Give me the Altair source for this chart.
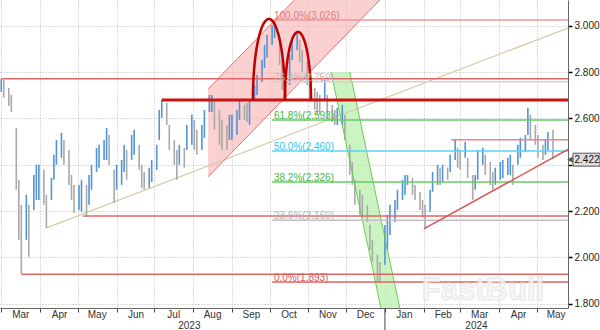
import altair as alt
import numpy as np
import pandas as pd

# ---------------- data ----------------
# one bar every second business day, starting 2023-03-01
bar_high = [
    2.771, 2.767, 2.732, 2.702, 2.559, 2.335, 2.227, 2.270, 2.227, 2.356,
    2.400, 2.400, 2.378, 2.270, 2.343, 2.443, 2.507, 2.538, 2.507, 2.464,
    2.356, 2.313, 2.313, 2.335, 2.313, 2.356, 2.400, 2.473, 2.486, 2.507,
    2.559, 2.529, 2.378, 2.400, 2.421, 2.486, 2.464, 2.529, 2.551, 2.486,
    2.400, 2.369, 2.387, 2.421, 2.486, 2.637, 2.680, 2.667, 2.572, 2.507,
    2.464, 2.486, 2.473, 2.572, 2.616, 2.594, 2.551, 2.572, 2.637, 2.702,
    2.702, 2.680, 2.637, 2.594, 2.572, 2.616, 2.616, 2.637, 2.680, 2.659,
    2.667, 2.680, 2.745, 2.788, 2.853, 2.918, 2.961, 3.004, 3.026, 2.961,
    2.853, 2.788, 2.875, 2.948, 2.970, 2.940, 2.896, 2.844, 2.767, 2.732,
    2.715, 2.702, 2.767, 2.702, 2.659, 2.637, 2.646, 2.659, 2.616, 2.486,
    2.412, 2.335, 2.292, 2.270, 2.227, 2.140, 2.076, 2.011, 1.980, 2.140,
    2.184, 2.227, 2.248, 2.292, 2.335, 2.356, 2.356, 2.343, 2.313, 2.283,
    2.248, 2.227, 2.292, 2.369, 2.400, 2.387, 2.400, 2.387, 2.443, 2.507,
    2.473, 2.464, 2.499, 2.430, 2.356, 2.356, 2.464, 2.473, 2.443, 2.412,
    2.369, 2.387, 2.412, 2.421, 2.430, 2.443, 2.400, 2.486, 2.516, 2.529,
    2.646, 2.616, 2.572, 2.529, 2.486, 2.507, 2.542, 2.551,
]
bar_low = [
    2.715, 2.689, 2.654, 2.628, 2.292, 2.076, 1.929, 2.076, 2.002, 2.205,
    2.248, 2.248, 2.227, 2.127, 2.248, 2.335, 2.400, 2.430, 2.400, 2.313,
    2.248, 2.192, 2.205, 2.196, 2.175, 2.227, 2.292, 2.369, 2.387, 2.421,
    2.421, 2.400, 2.235, 2.292, 2.313, 2.369, 2.335, 2.421, 2.443, 2.378,
    2.300, 2.292, 2.300, 2.326, 2.378, 2.507, 2.603, 2.572, 2.464, 2.400,
    2.335, 2.400, 2.387, 2.464, 2.486, 2.464, 2.443, 2.464, 2.516, 2.628,
    2.628, 2.551, 2.486, 2.464, 2.464, 2.507, 2.507, 2.529, 2.594, 2.594,
    2.585, 2.572, 2.680, 2.702, 2.758, 2.819, 2.862, 2.918, 2.948, 2.831,
    2.724, 2.680, 2.745, 2.853, 2.896, 2.844, 2.801, 2.745, 2.680, 2.637,
    2.616, 2.616, 2.680, 2.603, 2.585, 2.572, 2.572, 2.572, 2.507, 2.356,
    2.313, 2.227, 2.184, 2.171, 2.153, 2.032, 1.980, 1.894, 1.894, 1.968,
    2.032, 2.097, 2.153, 2.205, 2.248, 2.270, 2.313, 2.270, 2.248, 2.205,
    2.171, 2.127, 2.196, 2.283, 2.313, 2.313, 2.326, 2.335, 2.369, 2.421,
    2.387, 2.378, 2.430, 2.343, 2.248, 2.292, 2.335, 2.400, 2.356, 2.313,
    2.292, 2.313, 2.335, 2.343, 2.356, 2.356, 2.313, 2.400, 2.430, 2.456,
    2.529, 2.507, 2.486, 2.430, 2.421, 2.443, 2.464, 2.425,
]
last_price = 2.422

# Fibonacci retracement (drawn from the 2023-10 high)
fib_pct = ["100.0%", "76.4%", "61.8%", "50.0%", "38.2%", "23.6%", "0.0%"]
fib_val = [3.026, 2.759, 2.593, 2.460, 2.326, 2.160, 1.893]
fib_line_color = ["#e89a9a", "#e8c8cc", "#66cc66", "#55d4f2", "#66cc66", "#c8bcc8", "#e06060"]
fib_text_color = ["#e07c7c", "#c8b8b8", "#44b844", "#33c4ee", "#44b844", "#b4b4b4", "#e05a5a"]
fib_start = "2023-10-03"

# other horizontal levels
lvl_value = [2.772, 2.680, 2.179, 1.927, 2.508]
lvl_start = ["2023-03-01", "2023-07-07", "2023-05-05", "2023-03-17", "2024-02-23"]
lvl_color = ["#e06666", "#cc1111", "#e06666", "#e06666", "#e48888"]
lvl_width = [1.5, 3.0, 1.5, 1.5, 1.5]

# trend lines
tan_dates = ["2023-04-06", "2024-05-26"]
tan_vals = [2.127, 2.991]
rise_dates = ["2024-02-01", "2024-05-26"]
rise_vals = [2.123, 2.466]

# rising red channel
rch_dates = ["2023-08-13", "2023-12-29"]
rch_low = [2.348, 3.118]
rch_high = [2.728, 3.498]

# falling green channel (value, left edge date, right edge date)
gch_vals = [2.801, 1.700]
gch_left = ["2023-11-19", "2024-01-01"]
gch_right = ["2023-12-04", "2024-01-16"]

# double-top arcs
arc_center = ["2023-09-30 12:00", "2023-10-23 16:00"]
arc_half_days = [12.8, 10.4]
arc_peak = [3.030, 2.974]
arc_base = 2.680

months = [(2023, m) for m in range(3, 13)] + [(2024, m) for m in range(1, 6)]
years = ["2023", "2024"]
year_pos = ["2023-07-29", "2024-03-14"]
y_ticks = [1.8, 2.0, 2.2, 2.4, 2.6, 2.8, 3.0]

Y_DOM = (1.781, 3.112)

# ---------------- build tables ----------------
dates = pd.bdate_range("2023-03-01", periods=len(bar_high), freq="2B")
bars = pd.DataFrame({"date": dates, "high": bar_high, "low": bar_low})
mid = (bars["high"] + bars["low"]) / 2
bars["dir"] = np.where(mid.diff().fillna(0) >= 0, "up", "down")

end = pd.Timestamp("2024-05-26")
fib = pd.DataFrame({
    "start": pd.Timestamp(fib_start), "end": end, "v": fib_val,
    "lc": fib_line_color, "tc": fib_text_color,
    "label": [f"{p}({v:.3f})" for p, v in zip(fib_pct, fib_val)],
    "tx": pd.Timestamp(fib_start) + pd.Timedelta(days=1.5),
})
lvls = pd.DataFrame({"start": pd.to_datetime(lvl_start), "end": end, "v": lvl_value,
                     "c": lvl_color, "w": lvl_width})
tan = pd.DataFrame({"date": pd.to_datetime(tan_dates), "v": tan_vals})
rise = pd.DataFrame({"date": pd.to_datetime(rise_dates), "v": rise_vals})
rch = pd.DataFrame({"date": pd.to_datetime(rch_dates), "lo": rch_low, "hi": rch_high})
gch = pd.DataFrame({"v": gch_vals, "l": pd.to_datetime(gch_left), "r": pd.to_datetime(gch_right)})

arc_rows = []
for k, (c, hw, pk) in enumerate(zip(arc_center, arc_half_days, arc_peak)):
    for j, th in enumerate(np.linspace(0, np.pi, 61)):
        arc_rows.append({"arc": k, "i": j,
                         "date": pd.Timestamp(c) + pd.Timedelta(days=-hw * np.cos(th)),
                         "v": arc_base + (pk - arc_base) * np.sin(th)})
arcs = pd.DataFrame(arc_rows)

yr = pd.DataFrame({"date": pd.to_datetime(year_pos), "t": years})
sep = pd.DataFrame({"date": [pd.Timestamp("2024-01-01")]})
price = pd.DataFrame({"v": [last_price], "t": [f"{last_price:.3f}"],
                      "vt": [last_price + 0.028], "vb": [last_price - 0.028]})

# ---------------- scales / axes ----------------
xs = alt.Scale(domain=[alt.DateTime(year=2023, month=2, date=28),
                       alt.DateTime(year=2024, month=5, date=26)], nice=False)
ys = alt.Scale(domain=list(Y_DOM), nice=False, zero=False)

x_axis = alt.Axis(
    orient="bottom", values=[alt.DateTime(year=y, month=m, date=1) for y, m in months],
    format="%b", title=None, grid=True, gridDash=[1, 2], gridColor="#b8b8b8",
    tickSize=4, tickColor="#444", domainColor="#666", labelOffset=19,
    labelFlush=False, labelOverlap=False, labelPadding=-3, labelFont="Liberation Sans",
    labelFontSize=10, labelColor="#333",
)
# the 2.400 label sits under the last-price box, as in the original
y_axis = alt.Axis(
    orient="right", values=y_ticks, format=".3f", title=None,
    labelExpr="abs(datum.value - 2.4) < 0.001 ? '' : datum.label",
    grid=True, gridDash=[1, 2], gridColor="#b8b8b8", tickSize=4, tickColor="#000",
    tickWidth=1.5, domainColor="#666", labelPadding=2, labelFont="Liberation Sans",
    labelFontSize=10, labelColor="#222",
)


def X(f):
    return alt.X(f, type="temporal", scale=xs, axis=x_axis)


def Y(f):
    return alt.Y(f, type="quantitative", scale=ys, axis=y_axis)


red_band = alt.Chart(rch).mark_area(clip=True, color="#f7b0b0", opacity=0.6).encode(
    x=X("date"), y=Y("lo"), y2="hi")
red_lo = alt.Chart(rch).mark_line(clip=True, color="#e87070", strokeWidth=1).encode(
    x=X("date"), y=Y("lo"))
red_hi = alt.Chart(rch).mark_line(clip=True, color="#e87070", strokeWidth=1).encode(
    x=X("date"), y=Y("hi"))

green_band = alt.Chart(gch).mark_area(clip=True, orient="horizontal", color="#b6efaa",
                                      opacity=0.7).encode(
    y=Y("v"), x=X("l"), x2="r")
green_l = alt.Chart(gch).mark_line(clip=True, orient="horizontal", color="#66cc55",
                                   strokeWidth=1).encode(y=Y("v"), x=X("l"))
green_r = alt.Chart(gch).mark_line(clip=True, orient="horizontal", color="#66cc55",
                                   strokeWidth=1).encode(y=Y("v"), x=X("r"))

tan_line = alt.Chart(tan).mark_line(clip=True, color="#d6cba8", strokeWidth=1.2).encode(
    x=X("date"), y=Y("v"))
rise_line = alt.Chart(rise).mark_line(clip=True, color="#e05050", strokeWidth=1.5).encode(
    x=X("date"), y=Y("v"))

bar_layer = alt.Chart(bars).mark_rule(strokeWidth=1.6).encode(
    x=X("date"), y=Y("high"), y2="low",
    color=alt.Color("dir:N", scale=alt.Scale(domain=["up", "down"],
                                              range=["#5394d6", "#a9a9a9"]), legend=None),
)

fib_lines = alt.Chart(fib).mark_rule(clip=True, strokeWidth=1.5).encode(
    x=X("start"), x2="end", y=Y("v"), color=alt.Color("lc:N", scale=None))
lvl_lines = alt.Chart(lvls).mark_rule(clip=True).encode(
    x=X("start"), x2="end", y=Y("v"), color=alt.Color("c:N", scale=None),
    strokeWidth=alt.StrokeWidth("w:Q", scale=None))

arc_layer = alt.Chart(arcs).mark_line(clip=True, color="#c00000", strokeWidth=2.5).encode(
    x=X("date"), y=Y("v"), detail="arc:N", order="i:Q")

fib_text = alt.Chart(fib).mark_text(align="left", baseline="bottom", dy=1,
                                    font="Liberation Sans", fontSize=10).encode(
    x=X("tx"), y=Y("v"), text="label:N", color=alt.Color("tc:N", scale=None))

watermark = alt.Chart(price).mark_text(
    text="FastBull", font="Liberation Sans", fontWeight="bold", fontSize=31,
    fill="#f6f6f6", stroke="#e2e2e2", strokeWidth=1, opacity=0.8, baseline="middle",
).encode(x=alt.value(483), y=alt.value(291))

year_text = alt.Chart(yr).mark_text(font="Liberation Sans", fontSize=10, color="#333",
                                    baseline="middle").encode(
    x=X("date"), y=alt.value(325.5), text="t:N")
year_sep = alt.Chart(sep).mark_rule(color="#444", strokeWidth=1).encode(
    x=X("date"), y=alt.value(308), y2=alt.value(330))

price_box = alt.Chart(price).mark_rect(fill="#dedede", stroke="#555", strokeWidth=1).encode(
    x=alt.value(573), x2=alt.value(600), y=Y("vt"), y2="vb")
price_arrow = alt.Chart(price).mark_point(shape="triangle-left", filled=True, size=40,
                                          color="#555", opacity=1).encode(
    x=alt.value(570), y=Y("v"))
price_text = alt.Chart(price).mark_text(font="Liberation Sans", fontSize=10, color="#111",
                                        align="center").encode(
    x=alt.value(587), y=Y("v"), text="t:N")

chart = alt.layer(
    red_band, green_band, tan_line, bar_layer, red_lo, red_hi, green_l, green_r,
    fib_lines, lvl_lines, rise_line, arc_layer, fib_text, watermark, year_text, year_sep,
    price_box, price_arrow, price_text,
).properties(
    width=568, height=308,
    padding={"left": 0, "top": 0, "right": 32, "bottom": 22},
    autosize=alt.AutoSizeParams(type="none"),
    background="white",
).configure_view(stroke=None)

chart.save("out.html", embed_options={"renderer": "svg", "actions": False})
